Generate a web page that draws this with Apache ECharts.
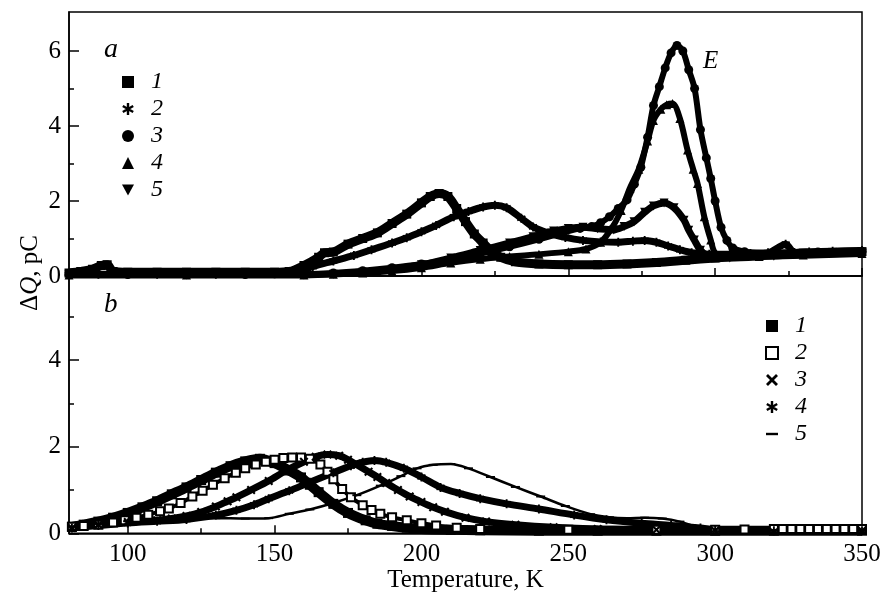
<!DOCTYPE html>
<html>
<head>
<meta charset="utf-8">
<script src="https://cdn.jsdelivr.net/npm/echarts@6/dist/echarts.min.js"></script>
<style>html,body{margin:0;padding:0;background:#fff}#c{width:890px;height:595px}</style>
</head>
<body>
<div id="c"></div>
<script>
// ---- tick values ----
const X_MAJOR = [100, 150, 200, 250, 300, 350];
const X_MINOR = [125, 175, 225, 275, 325];
const YA_MAJOR = [0, 2, 4, 6];
const YA_MINOR = [1, 3, 5];
const YB_MAJOR = [0, 2, 4];
const YB_MINOR = [1, 3, 5];
const LEGEND_LABELS = ['1', '2', '3', '4', '5'];

// ---- panel a data [T, dQ] ----
const a1 = [[80,0.08],[84,0.12],[88,0.18],[91,0.28],[93,0.3],[95,0.12],[100,0.1],[110,0.1],[120,0.1],[130,0.1],[140,0.1],[150,0.1],[155,0.12],[160,0.28],[165,0.5],[167,0.62],[170,0.64],[175,0.85],[180,1.0],[185,1.15],[190,1.4],[195,1.65],[200,1.95],[203,2.12],[206,2.2],[209,2.12],[212,1.8],[215,1.45],[218,1.12],[221,0.88],[224,0.65],[227,0.5],[232,0.38],[240,0.32],[250,0.3],[260,0.3],[270,0.32],[280,0.36],[290,0.42],[300,0.48],[310,0.54],[320,0.58],[330,0.61],[340,0.63],[350,0.65]];
const a2 = [[80,0.05],[90,0.05],[100,0.05],[110,0.05],[120,0.05],[130,0.05],[140,0.05],[150,0.06],[157,0.1],[163,0.25],[170,0.4],[177,0.55],[183,0.7],[190,0.88],[195,1.02],[200,1.18],[205,1.35],[211,1.58],[216,1.72],[221,1.84],[225,1.89],[229,1.82],[234,1.54],[238,1.31],[243,1.15],[249,1.03],[255,0.95],[261,0.91],[267,0.9],[272,0.93],[276,0.95],[280,0.9],[284,0.8],[288,0.7],[292,0.62],[298,0.58],[305,0.58],[312,0.6],[318,0.62],[324,0.85],[327,0.63],[332,0.64],[340,0.66],[350,0.68]];
const a3 = [[80,0.04],[100,0.04],[120,0.04],[140,0.04],[160,0.05],[170,0.08],[180,0.14],[190,0.22],[200,0.32],[210,0.45],[220,0.6],[230,0.78],[240,0.98],[248,1.15],[254,1.27],[258,1.32],[261,1.42],[264,1.58],[267,1.8],[270,2.03],[272.5,2.45],[274.7,2.9],[277,3.7],[279,4.55],[281,5.05],[283,5.55],[285,5.95],[287,6.15],[289,6.0],[291,5.5],[293,5.0],[295,3.9],[297,3.15],[298.5,2.6],[300,2.0],[302,1.3],[304,0.95],[306,0.75],[310,0.65],[320,0.62],[335,0.64],[350,0.66]];
const a4 = [[80,0.03],[120,0.03],[160,0.03],[170,0.05],[180,0.08],[190,0.13],[200,0.22],[210,0.35],[220,0.45],[230,0.52],[240,0.58],[250,0.65],[256,0.72],[261,0.9],[265,1.3],[268,1.75],[271,2.35],[274,2.85],[277,3.6],[279,4.15],[281.5,4.45],[283.5,4.57],[285.5,4.6],[288,4.2],[290.6,3.36],[292.5,2.85],[294,2.47],[296.3,1.58],[298.5,0.96],[300,0.62],[304,0.52],[315,0.52],[330,0.56],[350,0.6]];
const a5 = [[80,0.03],[120,0.03],[160,0.03],[170,0.05],[180,0.1],[190,0.18],[200,0.3],[210,0.48],[220,0.68],[230,0.88],[238,1.05],[245,1.2],[250,1.27],[255,1.3],[260,1.26],[265.5,1.23],[269,1.32],[272.4,1.45],[276,1.7],[279,1.87],[282.6,1.95],[286,1.82],[289.4,1.49],[291,1.22],[292.9,0.96],[295,0.69],[298,0.52],[305,0.48],[320,0.53],[350,0.6]];

// ---- panel b data [T, dQ] ----
const b1 = [[81,0.15],[85,0.2],[90,0.27],[95,0.36],[100,0.47],[105,0.6],[110,0.74],[115,0.9],[120,1.06],[125,1.23],[130,1.4],[135,1.55],[140,1.66],[145,1.72],[150,1.62],[155,1.45],[159,1.29],[162,1.12],[165,0.95],[170,0.68],[175,0.47],[181,0.3],[185,0.22],[190,0.17],[195,0.13],[200,0.1],[210,0.08],[220,0.07],[240,0.06],[260,0.06],[280,0.06],[300,0.06],[320,0.06],[350,0.06]];
const b2 = [[81,0.15],[85,0.17],[90,0.2],[95,0.25],[99,0.3],[103,0.36],[107,0.43],[111,0.51],[114,0.57],[118,0.7],[122,0.85],[125.5,0.98],[129,1.12],[133,1.27],[136.8,1.4],[140,1.5],[143.6,1.59],[147,1.65],[150,1.7],[153,1.74],[156,1.75],[159,1.75],[162,1.72],[165.6,1.59],[168,1.42],[170,1.25],[173,1.02],[176,0.83],[180,0.65],[183,0.54],[186,0.45],[190,0.37],[195,0.3],[200,0.23],[205,0.18],[212,0.13],[220,0.1],[250,0.08],[280,0.08],[300,0.08],[310,0.09],[320,0.1],[323,0.1],[326,0.1],[329,0.1],[332,0.1],[335,0.1],[338,0.1],[341,0.1],[344,0.1],[347,0.1],[350,0.1]];
const b3 = [[81,0.12],[90,0.2],[100,0.26],[110,0.3],[115,0.34],[120,0.4],[125,0.49],[130,0.62],[134,0.74],[137,0.83],[142,1.0],[148,1.21],[154,1.45],[160,1.65],[164,1.77],[168,1.82],[172,1.79],[175,1.7],[178,1.58],[182,1.42],[185,1.3],[188,1.16],[192,1.0],[196,0.85],[200,0.72],[204,0.6],[208,0.5],[215,0.36],[222,0.27],[232,0.2],[245,0.14],[260,0.1],[280,0.08],[300,0.06],[350,0.06]];
const b4 = [[81,0.12],[90,0.18],[100,0.24],[110,0.28],[120,0.32],[130,0.42],[137,0.53],[143,0.66],[148,0.8],[155,0.98],[162,1.18],[170,1.4],[176,1.56],[180,1.64],[184,1.68],[188,1.64],[194,1.5],[200,1.3],[206.5,1.06],[213,0.92],[220,0.8],[229,0.68],[240,0.56],[252,0.42],[263,0.31],[275,0.23],[285,0.18],[295,0.12],[300,0.08],[320,0.06],[350,0.06]];
const b5 = [[81,0.15],[90,0.22],[100,0.28],[110,0.32],[120,0.34],[130,0.35],[140,0.34],[148,0.35],[155,0.45],[162,0.55],[170,0.7],[178,0.88],[186,1.1],[193,1.32],[198.5,1.5],[204,1.58],[210,1.6],[216,1.5],[223.5,1.3],[232,1.07],[240.6,0.85],[249,0.63],[257.6,0.44],[264,0.37],[270,0.35],[276,0.36],[282,0.34],[288,0.27],[292,0.18],[297,0.1],[305,0.07],[320,0.06],[350,0.06]];

// ---- symbols ----
const ASTER = 'path://M-1,-5L1,-5L1,5L-1,5Z M3.83,-3.366L4.83,-1.634L-3.83,3.366L-4.83,1.634Z M4.83,1.634L3.83,3.366L-4.83,-1.634L-3.83,-3.366Z';
const CROSS = 'path://M2.83,-4.24L4.24,-2.83L-2.83,4.24L-4.24,2.83Z M4.24,2.83L2.83,4.24L-4.24,-2.83L-2.83,-4.24Z';
const DOWNTRI = 'path://M0,0L10,0L5,9Z';
const DASH = 'path://M-5,-1L5,-1L5,1L-5,1Z';

const FONT = '"Liberation Serif", "Times New Roman", serif';
const BLACK = '#000';

function mkSeries(name, data, xi, yi, symbol, size, lw) {
  return {
    name: name, type: 'line', data: data, xAxisIndex: xi, yAxisIndex: yi,
    symbol: symbol, symbolSize: size, showSymbol: true, showAllSymbol: true,
    smooth: 0.3,
    lineStyle: { color: BLACK, width: lw },
    itemStyle: { color: BLACK, borderColor: BLACK, borderWidth: symbol === 'emptyRect' ? 1.5 : 0 },
    emphasis: { disabled: true }, animation: false
  };
}

function xAxisPair(grid, withLabels) {
  const main = {
    gridIndex: grid, type: 'value', min: 80, max: 350, position: 'bottom',
    axisLine: { show: true, lineStyle: { color: BLACK, width: 1.5 } },
    axisTick: { show: true, inside: true, length: 8, customValues: X_MAJOR, lineStyle: { color: BLACK, width: 1.5 } },
    axisLabel: withLabels ? { show: true, customValues: X_MAJOR, color: BLACK, fontFamily: FONT, fontSize: 25, margin: 9 } : { show: false },
    splitLine: { show: false }
  };
  if (withLabels) {
    main.name = 'Temperature, K';
    main.nameLocation = 'middle';
    main.nameGap = 34;
    main.nameTextStyle = { color: BLACK, fontFamily: FONT, fontSize: 25 };
  }
  const minor = {
    gridIndex: grid, type: 'value', min: 80, max: 350, position: 'bottom',
    axisLine: { show: false },
    axisTick: { show: true, inside: true, length: 5, customValues: X_MINOR, lineStyle: { color: BLACK, width: 1.5 } },
    axisLabel: { show: false }, splitLine: { show: false }
  };
  return [main, minor];
}

function yAxisPair(grid, max, major, minorVals) {
  return [{
    gridIndex: grid, type: 'value', min: 0, max: max, position: 'left',
    axisLine: { show: true, lineStyle: { color: BLACK, width: 1.5 } },
    axisTick: { show: true, inside: true, length: 10, customValues: major, lineStyle: { color: BLACK, width: 1.5 } },
    axisLabel: { show: true, customValues: major, color: BLACK, fontFamily: FONT, fontSize: 25, margin: 8 },
    splitLine: { show: false }
  }, {
    gridIndex: grid, type: 'value', min: 0, max: max, position: 'left',
    axisLine: { show: false },
    axisTick: { show: true, inside: true, length: 5, customValues: minorVals, lineStyle: { color: BLACK, width: 1.5 } },
    axisLabel: { show: false }, splitLine: { show: false }
  }];
}

function legendFor(names, icons, left, top) {
  return {
    orient: 'vertical', left: left, top: top, itemWidth: 12, itemHeight: 12, itemGap: 3,
    selectedMode: false,
    data: names.map((n, i) => ({ name: n, icon: icons[i] })),
    formatter: function (n) { return LEGEND_LABELS[names.indexOf(n)]; },
    textStyle: { color: BLACK, fontFamily: FONT, fontSize: 24, fontStyle: 'italic', lineHeight: 20, padding: [0, 0, 0, 12] }
  };
}

const chart = echarts.init(document.getElementById('c'), null, { renderer: 'canvas' });
const option = {
  animation: false,
  backgroundColor: '#fff',
  grid: [
    { left: 69, right: 28, top: 12, height: 264, show: true, borderColor: BLACK, borderWidth: 1.5, backgroundColor: 'transparent' },
    { left: 69, right: 28, top: 276, height: 257.3, show: true, borderColor: BLACK, borderWidth: 1.5, backgroundColor: 'transparent' }
  ],
  xAxis: [].concat(xAxisPair(0, false), xAxisPair(1, true)),
  yAxis: [].concat(yAxisPair(0, 7.04, YA_MAJOR, YA_MINOR), yAxisPair(1, 5.94, YB_MAJOR, YB_MINOR)),
  legend: [
    legendFor(['a1','a2','a3','a4','a5'], ['rect', ASTER, 'circle', 'triangle', DOWNTRI], 117, 65),
    legendFor(['b1','b2','b3','b4','b5'], ['rect', 'emptyRect', CROSS, ASTER, DASH], 760, 309)
  ],
  series: [
    mkSeries('a1', a1, 0, 0, 'rect', 9, 9),
    mkSeries('a2', a2, 0, 0, ASTER, 9, 7),
    mkSeries('a3', a3, 0, 0, 'circle', 9, 6),
    mkSeries('a4', a4, 0, 0, 'triangle', 9, 6),
    mkSeries('a5', a5, 0, 0, DOWNTRI, 9, 7),
    mkSeries('b1', b1, 2, 2, 'rect', 10, 10),
    mkSeries('b2', b2, 2, 2, 'emptyRect', 8, 4),
    mkSeries('b3', b3, 2, 2, CROSS, 9, 7),
    mkSeries('b4', b4, 2, 2, ASTER, 9, 7),
    mkSeries('b5', b5, 2, 2, DASH, [9, 2], 2.5)
  ],
  graphic: [
    { type: 'text', left: 104, top: 36, style: { text: 'a', fontFamily: FONT, fontSize: 28, fontStyle: 'italic', fill: BLACK } },
    { type: 'text', left: 104, top: 291, style: { text: 'b', fontFamily: FONT, fontSize: 27, fontStyle: 'italic', fill: BLACK } },
    { type: 'text', left: 703, top: 49, style: { text: 'E', fontFamily: FONT, fontSize: 25, fontStyle: 'italic', fill: BLACK } },
    { type: 'text', x: 30, y: 273, rotation: Math.PI / 2,
      style: { text: '{n|Δ}{i|Q}{n|, pC}', align: 'center', verticalAlign: 'middle', fill: BLACK,
        rich: { n: { fontFamily: FONT, fontSize: 25, fill: BLACK }, i: { fontFamily: FONT, fontSize: 25, fontStyle: 'italic', fill: BLACK } } } }
  ]
};
chart.setOption(option);
</script>
</body>
</html>
